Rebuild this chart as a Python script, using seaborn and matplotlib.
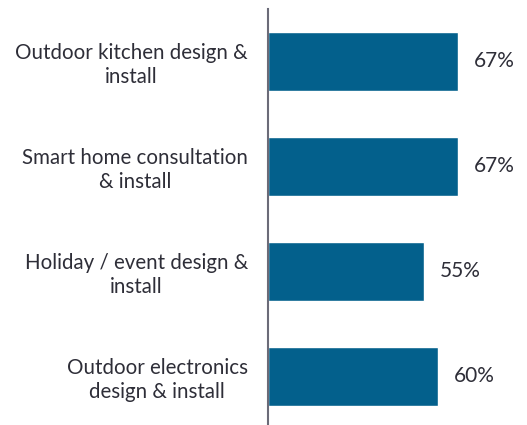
import matplotlib
matplotlib.use("Agg")
import matplotlib.pyplot as plt
import seaborn as sns
import pandas as pd

categories = ["Outdoor kitchen design &\ninstall",
              "Smart home consultation\n& install",
              "Holiday / event design &\ninstall",
              "Outdoor electronics\ndesign & install"]
values = [67, 67, 55, 60]
value_labels = ["67%", "67%", "55%", "60%"]

sns.set_style("white")
plt.rcParams['font.family'] = ['Lato', 'DejaVu Sans']

df = pd.DataFrame({"cat": categories, "val": values})

fig = plt.figure(figsize=(5.27, 4.25), dpi=100)
ax = fig.add_axes([268/527, 0, 1 - 268/527, 416/425])
sns.barplot(data=df, y="cat", x="val", orient="h", color="#03608C",
            saturation=1, width=0.57, ax=ax)
ax.set_ylim(3.462, -0.5)
ax.set_xlim(0, 91.3)
ax.set_xlabel("")
ax.set_ylabel("")
ax.set_xticks([])
for s in ["top", "right", "bottom"]:
    ax.spines[s].set_visible(False)
ax.spines["left"].set_color("#6b6b78")
ax.spines["left"].set_linewidth(1.5)
ax.tick_params(axis="y", length=0, pad=14.5, labelsize=14.8, labelcolor="#2e2e38")
for lab in ax.get_yticklabels():
    lab.set_multialignment("center")
    lab.set_linespacing(1.25)
for i, (v, t) in enumerate(zip(values, value_labels)):
    ax.text(v + 5.6, i, t, va="center", ha="left", fontsize=15, color="#2e2e38")

fig.savefig("out.png", dpi=100)
